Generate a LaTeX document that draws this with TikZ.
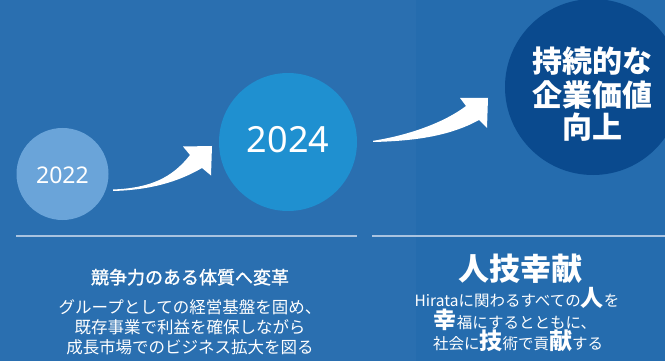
\documentclass[tikz,border=0pt]{standalone}
\usepackage{fontspec}
\setmainfont{Noto Sans}
\newfontfamily\cjk{Noto Sans CJK JP}
\newfontfamily\cjkmed{Noto Sans CJK JP}[FakeBold=1.2]
\definecolor{bgL}{HTML}{2A6FB0}
\definecolor{bgR}{HTML}{256CAE}
\definecolor{c22}{HTML}{6AA4D9}
\definecolor{c24}{HTML}{1F90D0}
\definecolor{cgoal}{HTML}{0A4A8E}
\definecolor{rule}{HTML}{A9C3E0}
\begin{document}
\begin{tikzpicture}[x=1pt,y=-1pt,
  yearcircle/.style={circle,inner sep=0pt,text=white},
  jtext/.style={text=white,inner sep=0pt,anchor=base,font=\cjk},
  arrowshape/.style={fill=white,draw=none},
  sep/.style={draw=rule,line width=1.5pt}]
\useasboundingbox (0,0) rectangle (665,361);
\fill[bgL] (0,0) rectangle (416,361);
\fill[bgR] (416,0) rectangle (665,361);
% circles
\node[yearcircle,fill=c22,minimum size=92pt] (y22) at (62.5,174) {};
\node[text=white,inner sep=0pt,anchor=base,font=\fontsize{23}{23}\selectfont] (t22) at (62.5,183) {2022};
\node[yearcircle,fill=c24,minimum size=138pt] (y24) at (288,142) {};
\node[text=white,inner sep=0pt,anchor=base,font=\fontsize{36}{36}\selectfont] (t24) at (288,153) {2024};
\node[yearcircle,fill=cgoal,minimum size=176pt] (goal) at (593,87) {};
\node[jtext,font=\cjk\bfseries\fontsize{30}{30}\selectfont] (g1) at (592.5,72.5) {持続的な};
\node[jtext,font=\cjk\bfseries\fontsize{30}{30}\selectfont] (g2) at (592.5,106.5) {企業価値};
\node[jtext,font=\cjk\bfseries\fontsize{30}{30}\selectfont] (g3) at (592.5,139) {向上};
% arrows
\fill[arrowshape] (113,191) .. controls (150,190) and (178,182) .. (202,168)
  -- (211,175.5) -- (212,146) -- (183,146.5) -- (190,155)
  .. controls (172,178) and (150,188) .. (113,189.5) -- cycle;
\fill[arrowshape] (373,142) .. controls (415,141) and (450,136) .. (479,120)
  -- (487,128) -- (488,98) -- (460,98) -- (466,106)
  .. controls (445,122) and (410,135) .. (373,140.8) -- cycle;
% separators
\coordinate (s1a) at (16,236); \coordinate (s1b) at (357,236);
\coordinate (s2a) at (372,236); \coordinate (s2b) at (665,236);
\draw[sep] (s1a) -- (s1b);
\draw[sep] (s2a) -- (s2b);
% left text
\node[jtext,font=\cjkmed\fontsize{18}{18}\selectfont] (lh) at (190,284) {競争力のある体質へ変革};
\node[jtext,font=\cjk\fontsize{16.5}{16.5}\selectfont] (l1) at (190,313) {グループとしての経営基盤を固め、};
\node[jtext,font=\cjk\fontsize{16.5}{16.5}\selectfont] (l2) at (190,333) {既存事業で利益を確保しながら};
\node[jtext,font=\cjk\fontsize{16.5}{16.5}\selectfont] (l3) at (190,353) {成長市場でのビジネス拡大を図る};
% right text
\node[jtext,font=\cjk\bfseries\fontsize{31}{31}\selectfont] (rh) at (520,280) {人技幸献};
\newcommand\bigj[1]{{\bfseries\fontsize{23}{23}\selectfont #1}}
\node[jtext,font=\cjk\fontsize{15.5}{15.5}\selectfont] (r1) at (517,306) {Hirataに関わるすべての\bigj{人}を};
\node[jtext,font=\cjk\fontsize{15.5}{15.5}\selectfont] (r2) at (515,328) {\bigj{幸}福にするとともに、};
\node[jtext,font=\cjk\fontsize{15.5}{15.5}\selectfont] (r3) at (518,349) {社会に\bigj{技}術で貢\bigj{献}する};
\end{tikzpicture}
\end{document}
